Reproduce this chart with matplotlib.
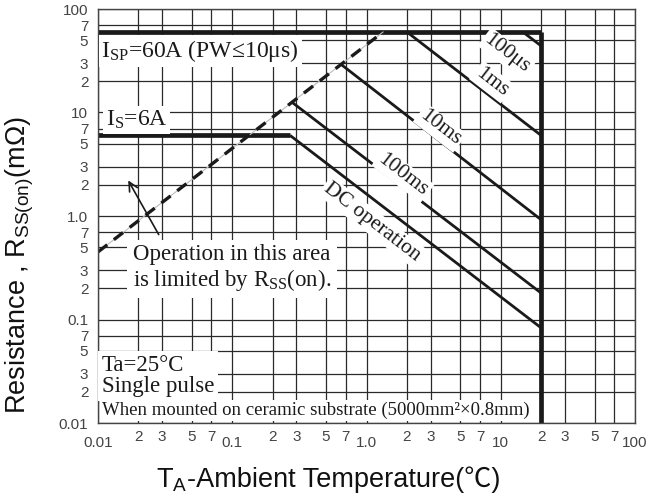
import math
import matplotlib.pyplot as plt

plt.rcParams['font.family'] = ['Liberation Sans', 'DejaVu Sans']

# limit lines
isp_x = [0.01, 20]
isp_y = [60, 60]
edge_x = [20, 20]
edge_y = [0.01, 60]
dc_x = [0.01, 0.27, 20]
dc_y = [6, 6, 0.083]
pw100ms_x = [0.28, 20]
pw100ms_y = [12.5, 0.18]
pw10ms_x = [0.65, 20]
pw10ms_y = [29, 0.92]
pw1ms_x = [2.0, 20]
pw1ms_y = [60, 6.0]
pw100us_x = [14.6, 20]
pw100us_y = [60, 44]
rss_x = [0.01, 1.33]
rss_y = [0.45, 60]

curve_labels = ['100μs', '1ms', '10ms', '100ms', 'DC operation']
label_x = [11.1, 8.6, 3.53, 1.87, 1.10]
label_y = [37, 19.7, 7.08, 2.49, 0.875]

decades = [0.01, 0.1, 1, 10, 100]
decade_labels = ['0.01', '0.1', '1.0', '10', '100']
minor_steps = [2, 3, 5, 7]

serif = ['Liberation Serif', 'DejaVu Serif']
ink = '#1a1a1a'

fig = plt.figure(figsize=(6.68, 4.98), dpi=100)
ax = fig.add_axes([98 / 668, 1 - 423 / 498, 537 / 668, 414 / 498])
ax.set_xscale('log')
ax.set_yscale('log')
ax.set_xlim(0.01, 100)
ax.set_ylim(0.01, 100)

minor = [d * m for d in decades[:-1] for m in minor_steps]
minor_labels = [str(m) for d in decades[:-1] for m in minor_steps]
ax.set_xticks(decades, decade_labels)
ax.set_xticks(minor, minor_labels, minor=True)
ax.set_yticks(decades, decade_labels)
ax.set_yticks(minor, minor_labels, minor=True)
ax.tick_params(which='both', length=0, labelsize=11, labelcolor='#444')
ax.tick_params(axis='x', which='major', pad=9)
ax.tick_params(axis='x', which='minor', pad=5)
ax.tick_params(axis='y', which='both', pad=7)

ax.grid(True, which='both', color='#2a2a2a', lw=0.9)
ax.set_axisbelow(True)
for s in ax.spines.values():
    s.set_color('#444')
    s.set_linewidth(1.0)

# operating area limits
thick = dict(color=ink, lw=3.4, solid_capstyle='butt')
thin = dict(color=ink, lw=2.0, solid_capstyle='butt')
ax.plot(isp_x, isp_y, **thick)
ax.plot(edge_x, edge_y, **thick)
ax.plot(dc_x[:2], dc_y[:2], **thick)
ax.plot(dc_x[1:], dc_y[1:], **thin)
ax.plot(pw100ms_x, pw100ms_y, **thin)
ax.plot(pw10ms_x, pw10ms_y, **thin)
ax.plot(pw1ms_x, pw1ms_y, **thin)
ax.plot(pw100us_x, pw100us_y, **thin)
ax.plot(rss_x, rss_y, color='#bbbbbb', lw=0.8)
ax.plot(rss_x, rss_y, color=ink, lw=2.4, dashes=(3.5, 2.5))

# text slope along the -1 lines
p0 = ax.transData.transform((1, 1))
p1 = ax.transData.transform((10, 0.1))
ang = math.degrees(math.atan2(p1[1] - p0[1], p1[0] - p0[0]))

white = dict(facecolor='white', edgecolor='none', pad=1.5)
for t, x, y in zip(curve_labels, label_x, label_y):
    ax.text(x, y, t, rotation=ang, rotation_mode='anchor', ha='center', va='center',
            family=serif, fontsize=15.5, color=ink, bbox=white)

ax.text(0.0106, 34.4, r'$\mathregular{I_{SP}}$=60A (PW≤10μs)', family=serif,
        fontsize=17, color=ink, va='baseline',
        bbox=dict(facecolor='white', edgecolor='none', pad=2))
ax.text(0.0114, 7.4, r'$\mathregular{I_S}$=6A', family=serif, fontsize=17,
        color=ink, va='baseline', bbox=dict(facecolor='white', edgecolor='none', pad=2))
ax.text(0.0182, 0.54, 'Operation in this area\nis limited by $\\mathregular{R_{SS}}$(on).',
        family=serif, fontsize=16.5, color=ink, va='top', linespacing=1.12,
        bbox=dict(facecolor='white', edgecolor='none', pad=4))
ax.annotate('', xy=(0.0164, 2.33), xytext=(0.029, 0.627),
            arrowprops=dict(arrowstyle='->', lw=1.2, color=ink, mutation_scale=16))
ax.text(0.0107, 0.0455, 'Ta=25°C\nSingle pulse', family=serif, fontsize=16.5,
        color=ink, va='top', linespacing=1.02, zorder=4,
        bbox=dict(facecolor='white', edgecolor='none', pad=3))
ax.text(0.0107, 0.01195, 'When mounted on ceramic substrate (5000mm²×0.8mm)',
        family=serif, fontsize=13.5, color=ink, va='baseline', zorder=3,
        bbox=dict(facecolor='white', edgecolor='none', pad=1.5))

# axis titles
fig.text(20 / 668, 1 - 265 / 498, r'Resistance , $\mathregular{R_{SS(on)}}$(mΩ)',
         rotation=90, ha='center', va='center', fontsize=19.5, color='#111')
t1 = fig.text(0.3, 11 / 498, r'$\mathregular{T_A}$', fontsize=19.5, va='baseline', color='#111')
t2 = fig.text(0.35, 11 / 498, '-Ambient Temperature(℃)', fontsize=19.5, va='baseline',
              family=['Liberation Sans', 'Noto Sans CJK SC'], color='#111')
fig.canvas.draw()
w1 = t1.get_window_extent().width
w2 = t2.get_window_extent().width
x0 = 328 - (w1 + w2) / 2
t1.set_x(x0 / 668)
t2.set_x((x0 + w1) / 668)

fig.savefig('out.png', dpi=100)
